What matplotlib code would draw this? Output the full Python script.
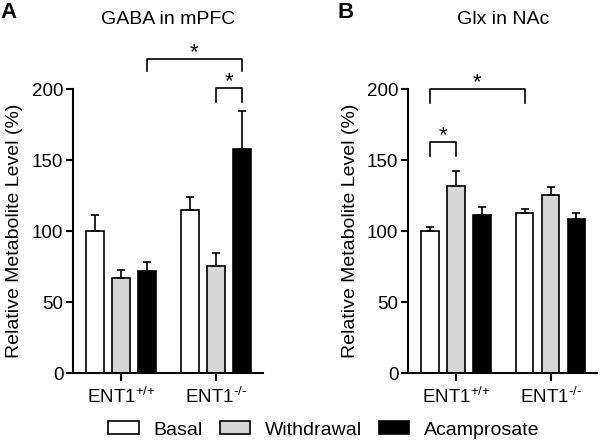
import numpy as np
import matplotlib
matplotlib.use("Agg")
import matplotlib.pyplot as plt
from matplotlib.patches import Patch

plt.rcParams["font.family"] = ["Liberation Sans", "DejaVu Sans"]
plt.rcParams["mathtext.fontset"] = "custom"
plt.rcParams["mathtext.rm"] = "Liberation Sans"
plt.rcParams["mathtext.it"] = "Liberation Sans"

genotypes = [r"ENT1$^{\text{+/+}}$", r"ENT1$^{\text{-/-}}$"]
conditions = ["Basal", "Withdrawal", "Acamprosate"]
colors = ["white", "#d6d6d6", "black"]

# panel A: GABA in mPFC
gaba_mean = {"Basal": [100, 114.5], "Withdrawal": [67, 75.5], "Acamprosate": [72, 157.5]}
gaba_sem = {"Basal": [11.5, 9.5], "Withdrawal": [5.5, 9], "Acamprosate": [6, 27]}
# panel B: Glx in NAc
glx_mean = {"Basal": [100, 112.5], "Withdrawal": [132, 125.5], "Acamprosate": [111.5, 108.5]}
glx_sem = {"Basal": [3, 3], "Withdrawal": [10, 5.5], "Acamprosate": [5.5, 4.5]}

# significance brackets: (group, condition) pairs, bracket height, leg length
gaba_sig = [((0, 2), (1, 2), 221, 8.5), ((1, 1), (1, 2), 200.5, 9.5)]
glx_sig = [((0, 0), (1, 0), 200, 10), ((0, 0), (0, 1), 163, 10)]

STEP = 0.274
WIDTH = 0.184


def bar_x(g, c):
    return g + (c - 1) * STEP


def panel(ax, means, sems, sig, title):
    x = np.arange(len(genotypes))
    for i, cond in enumerate(conditions):
        xs = x + (i - 1) * STEP
        ax.bar(xs, means[cond], WIDTH, color=colors[i], edgecolor="black",
               linewidth=1.2, zorder=2)
        ax.errorbar(xs, means[cond], yerr=[np.zeros(len(x)), sems[cond]],
                    fmt="none", ecolor="black", elinewidth=1.2, capsize=3,
                    capthick=1.2, zorder=3)
    for a, b, y, leg in sig:
        x1, x2 = bar_x(*a), bar_x(*b)
        ax.plot([x1, x1, x2, x2], [y - leg, y, y, y - leg], color="black",
                lw=1.2, clip_on=False)
        ax.text((x1 + x2) / 2, y - 3, "*", ha="center", va="bottom",
                fontsize=16, clip_on=False)
    ax.set_xlim(-0.505, 1.495)
    ax.set_ylim(0, 200)
    ax.set_yticks([0, 50, 100, 150, 200])
    ax.set_xticks(x)
    ax.set_xticklabels(genotypes)
    ax.spines["top"].set_visible(False)
    ax.spines["right"].set_visible(False)
    ax.spines["left"].set_linewidth(1.5)
    ax.spines["bottom"].set_linewidth(1.5)
    ax.tick_params(width=1.5, length=5, labelsize=13.5, pad=2)
    ax.tick_params(axis="x", length=6, pad=4)
    ax.set_ylabel("Relative Metabolite Level (%)", fontsize=14, labelpad=6)
    # title placed in figure pixels to match the reference
    bbox = ax.get_position()
    fig.text((bbox.x0 + bbox.x1) / 2, 1 - 19 / 443, title, fontsize=14,
             ha="center", va="center")


fig = plt.figure(figsize=(6.01, 4.43), dpi=100)
ax1 = fig.add_axes([0.1215, 0.158, 0.316, 0.641])
ax2 = fig.add_axes([0.679, 0.158, 0.315, 0.641])
panel(ax1, gaba_mean, gaba_sem, gaba_sig, "GABA in mPFC")
panel(ax2, glx_mean, glx_sem, glx_sig, "Glx in NAc")

fig.text(0.0, 1 - 13 / 443, "A", fontsize=16, fontweight="bold", va="center")
fig.text(0.561, 1 - 13 / 443, "B", fontsize=16, fontweight="bold", va="center")

handles = [Patch(facecolor=c, edgecolor="black", linewidth=1.2) for c in colors]
fig.legend(handles, conditions, loc="center", bbox_to_anchor=(324 / 601, 1 - 430 / 443),
           ncol=3, frameon=False, fontsize=14, handlelength=1.55, handleheight=0.62,
           handletextpad=0.77, columnspacing=0.87, borderaxespad=0)

fig.savefig("out.png", dpi=100)
